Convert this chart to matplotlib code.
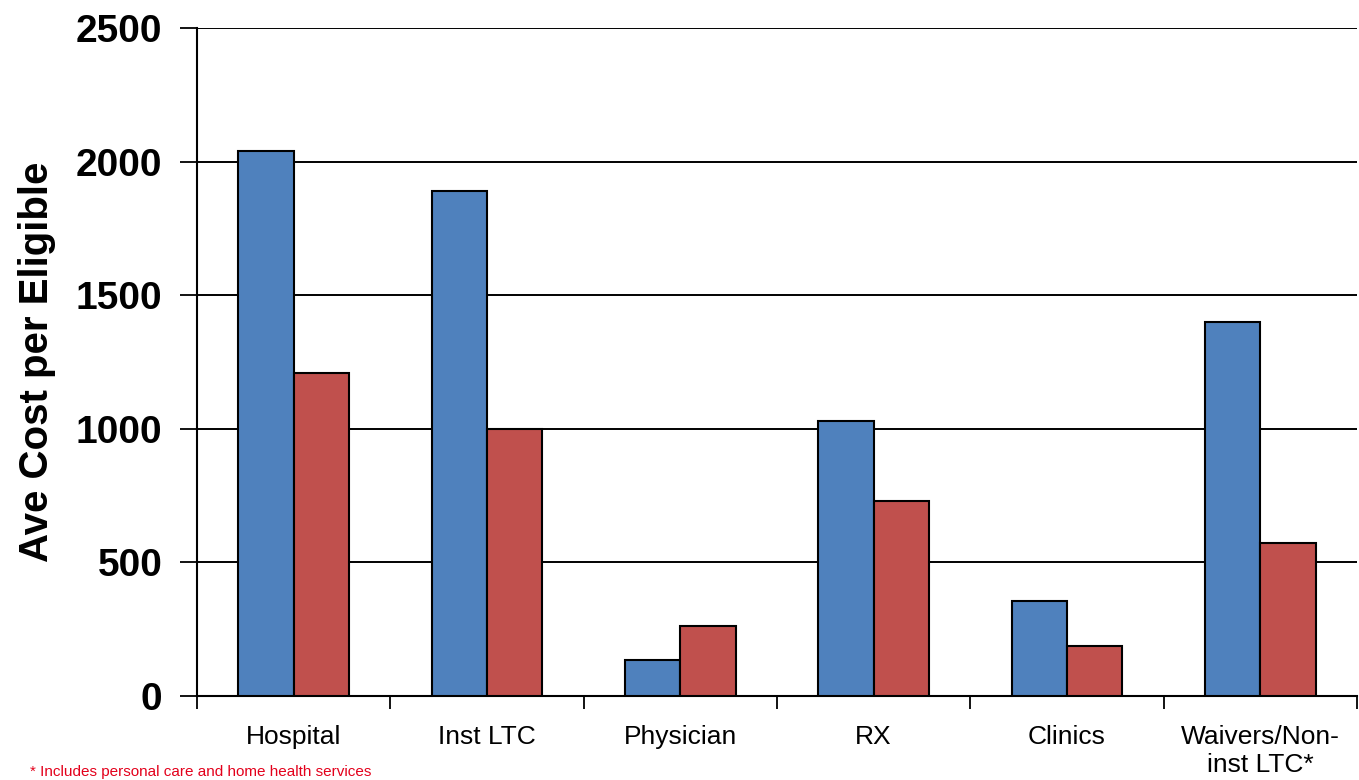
import matplotlib
matplotlib.use("Agg")
import matplotlib.pyplot as plt
import numpy as np

plt.rcParams['font.family'] = ['Liberation Sans', 'DejaVu Sans']

categories = ["Hospital", "Inst LTC", "Physician", "RX", "Clinics", "Waivers/Non-\ninst LTC*"]
series_a = [2040, 1890, 135, 1030, 355, 1400]
series_b = [1210, 1000, 262, 730, 188, 573]
y_ticks = [0, 500, 1000, 1500, 2000, 2500]
footnote = "* Includes personal care and home health services"

blue = "#4F81BD"
red = "#C0504D"

fig = plt.figure(figsize=(13.59, 7.80), dpi=100)
ax = fig.add_axes([0.145, 0.1077, 0.8535, 0.8564])

x = np.arange(len(categories))
w = 1 / 3.5
ax.bar(x - w / 2, series_a, width=w, color=blue, edgecolor="black", linewidth=1.5, zorder=3)
ax.bar(x + w / 2, series_b, width=w, color=red, edgecolor="black", linewidth=1.5, zorder=3)

ax.set_xlim(-0.5, len(categories) - 0.5)
ax.set_ylim(0, 2500)
ax.set_yticks(y_ticks)
ax.set_yticklabels([str(v) for v in y_ticks], fontsize=28, fontweight="bold")
ax.yaxis.grid(True, color="black", linewidth=1.4, zorder=0)
ax.set_axisbelow(True)

ax.set_xticks(x)
ax.set_xticklabels(categories, fontsize=19)
ax.tick_params(axis="x", which="major", length=0, pad=21)
ax.set_xticks(np.arange(-0.5, len(categories)), minor=True)
ax.tick_params(axis="x", which="minor", length=9, width=1.3, direction="out")
ax.tick_params(axis="y", length=12, width=1.3, direction="out", pad=13)

for s in ["top", "right"]:
    ax.spines[s].set_visible(False)
for s in ["left", "bottom"]:
    ax.spines[s].set_linewidth(1.5)

ax.set_ylabel("Ave Cost per Eligible", fontsize=29, fontweight="bold", labelpad=14)

fig.text(30 / 1359, 1 / 780, footnote, color="#E3001B", fontsize=11, va="bottom", ha="left")

fig.savefig("out.png", dpi=100)
